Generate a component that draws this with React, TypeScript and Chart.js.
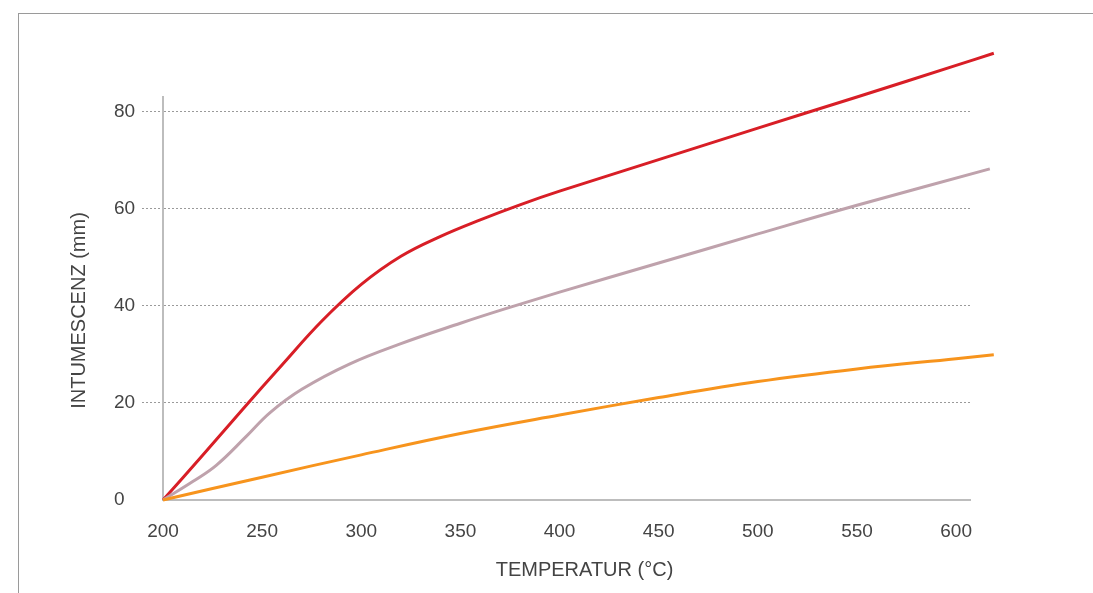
import React, { useEffect, useRef } from "react";
import { Chart, registerables } from "chart.js";

Chart.register(...registerables);

const xTitle = "TEMPERATUR (°C)";
const yTitle = "INTUMESCENZ (mm)";

const redX = [200, 220, 240, 260, 280, 300, 320, 340, 360, 380, 400, 450, 500, 550, 600, 619];
const redY = [0, 9.2, 18.6, 27.8, 36.8, 44.4, 50.2, 54.3, 57.7, 60.8, 63.6, 70.1, 76.6, 83.0, 89.5, 92.0];

const mauveX = [200, 215, 227, 242, 254, 270, 294, 320, 350, 372, 400, 450, 500, 550, 617];
const mauveY = [0, 3.8, 7.2, 13.1, 18.0, 22.8, 28.0, 32.2, 36.4, 39.3, 42.8, 48.8, 54.8, 60.7, 68.2];

const orangeX = [200, 250, 300, 350, 400, 450, 500, 550, 600, 619];
const orangeY = [0, 4.7, 9.3, 13.7, 17.5, 21.1, 24.4, 27.0, 29.1, 29.9];

const xMin = 200;
const xMax = 607;
const xStep = 50;
const yMin = 0;
const yMax = 83;
const yStep = 20;

const FONT = '"Liberation Sans", Arial, sans-serif';
const TEXT = "#444444";
const GRID = "#9a9a9a";

const toPoints = (xs: number[], ys: number[]) => xs.map((x, i) => ({ x, y: ys[i] }));

const titlePlugin = {
  id: "axisTitles",
  afterDraw(chart: any) {
    const { ctx, chartArea } = chart;
    ctx.save();
    ctx.font = `20px ${FONT}`;
    ctx.fillStyle = TEXT;
    ctx.textAlign = "center";
    ctx.textBaseline = "middle";
    ctx.fillText(xTitle, (chartArea.left + chartArea.right) / 2 + 18, chartArea.bottom + 70);
    ctx.translate(chartArea.left - 84, (chartArea.top + chartArea.bottom) / 2 + 12);
    ctx.rotate(-Math.PI / 2);
    ctx.fillText(yTitle, 0, 0);
    ctx.restore();
  },
};

export default function App() {
  const canvasRef = useRef<HTMLCanvasElement | null>(null);

  useEffect(() => {
    if (!canvasRef.current) return;
    const line = (data: any, color: string) => ({
      data,
      borderColor: color,
      backgroundColor: color,
      borderWidth: 3,
      pointRadius: 0,
      tension: 0.4,
      clip: false as any,
      fill: false,
    });
    const hide = (c: any, col: string) => (c.tick && c.tick.value === 0 ? "rgba(0,0,0,0)" : col);
    const chart = new Chart(canvasRef.current, {
      type: "line",
      data: {
        datasets: [
          line(toPoints(orangeX, orangeY), "#f7941d"),
          line(toPoints(mauveX, mauveY), "#bfa2ac"),
          line(toPoints(redX, redY), "#d81e26"),
        ],
      },
      options: {
        animation: false,
        responsive: true,
        maintainAspectRatio: false,
        layout: { padding: { left: 114, top: 97, right: 123, bottom: 0 } },
        plugins: { legend: { display: false }, tooltip: { enabled: false } },
        scales: {
          x: {
            type: "linear",
            min: xMin,
            max: xMax,
            afterFit: (s: any) => {
              s.height = 93;
            },
            grid: { display: false, drawTicks: false },
            border: { display: true, color: "#bdbdbd", width: 2 },
            ticks: {
              stepSize: xStep,
              includeBounds: false,
              padding: 20,
              color: TEXT,
              font: { family: FONT, size: 19 },
              maxRotation: 0,
            },
          },
          y: {
            type: "linear",
            min: yMin,
            max: yMax,
            afterFit: (s: any) => {
              s.width = 49;
            },
            grid: {
              color: (c: any) => hide(c, GRID),
              tickColor: (c: any) => hide(c, GRID),
              lineWidth: 1,
              tickBorderDash: [2, 2],
              drawTicks: true,
              tickLength: 21,
            } as any,
            border: { display: true, color: "#bdbdbd", width: 2, dash: [2, 2] } as any,
            ticks: {
              stepSize: yStep,
              includeBounds: false,
              padding: 0,
              crossAlign: "far",
              color: TEXT,
              font: { family: FONT, size: 19 },
            },
          },
        },
      },
      plugins: [titlePlugin],
    });
    return () => chart.destroy();
  }, []);

  return (
    <div style={{ position: "fixed", left: 0, top: 0, width: 1093, height: 593, background: "#fff", overflow: "hidden" }}>
      <div
        style={{
          position: "absolute",
          left: 18,
          top: 13,
          width: 1100,
          height: 600,
          borderTop: "1px solid #9a9a9a",
          borderLeft: "1px solid #9a9a9a",
        }}
      />
      <div style={{ position: "absolute", left: 0, top: 0, width: 1093, height: 593 }}>
        <canvas ref={canvasRef} />
      </div>
    </div>
  );
}
